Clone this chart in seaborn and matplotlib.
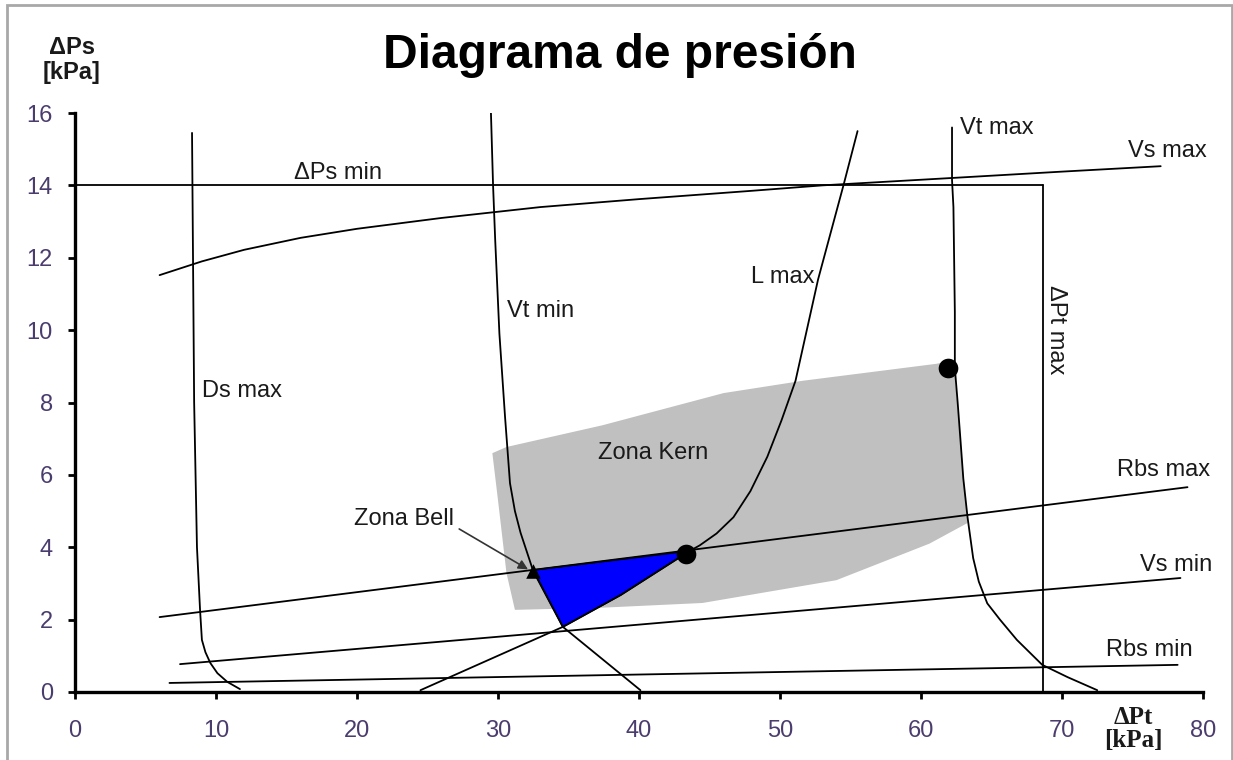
import numpy as np
import matplotlib
matplotlib.use('Agg')
import matplotlib.pyplot as plt
import seaborn as sns

# curves (dPt [kPa], dPs [kPa])
ds_max_x = [8.3, 8.45, 8.65, 8.87, 9.0, 9.25, 9.6, 10.1, 10.8, 11.7]
ds_max_y = [15.45, 8.0, 4.0, 2.26, 1.44, 1.1, 0.8, 0.52, 0.28, 0.08]

vt_min_x = [29.5, 29.65, 29.8, 30.1, 30.5, 30.85, 31.2, 31.6, 32.5, 34.6, 40.1]
vt_min_y = [16.0, 14.0, 12.5, 9.9, 7.6, 5.77, 5.0, 4.4, 3.34, 1.8, 0.05]

l_max_x = [24.5, 34.6, 38.7, 43.6, 44.3, 45.5, 46.7, 47.9, 49.1, 50.1, 51.1, 51.9, 52.7, 53.6, 54.5, 55.5]
l_max_y = [0.05, 1.8, 2.68, 3.9, 4.05, 4.38, 4.83, 5.55, 6.5, 7.5, 8.6, 10.0, 11.4, 12.7, 14.0, 15.5]

vt_max_x = [62.2, 62.2, 62.3, 62.4, 62.4, 62.6, 62.8, 63.0, 63.3, 63.7, 64.1, 64.7, 65.6, 66.8, 68.6, 70.4, 72.5]
vt_max_y = [15.6, 14.15, 13.4, 10.5, 8.95, 8.0, 6.96, 5.9, 4.83, 3.7, 3.05, 2.45, 2.0, 1.44, 0.75, 0.41, 0.05]

vs_max_x = [6.0, 9.0, 12.0, 16.0, 20.0, 26.0, 33.0, 40.0, 48.0, 53.0, 62.0, 70.0, 77.0]
vs_max_y = [11.52, 11.9, 12.22, 12.55, 12.8, 13.1, 13.4, 13.62, 13.85, 14.0, 14.2, 14.38, 14.53]

dps_min_x = [0, 68.65]
dps_min_y = [14, 14]
dpt_max_x = [68.65, 68.65]
dpt_max_y = [14, 0]

rbs_max_x = [6.0, 78.9]
rbs_max_y = [2.07, 5.66]
vs_min_x = [7.45, 78.4]
vs_min_y = [0.77, 3.15]
rbs_min_x = [6.7, 78.2]
rbs_min_y = [0.25, 0.75]

kern_x = [29.6, 30.6, 37.4, 46.0, 51.6, 61.1, 62.3, 62.8, 63.3, 60.6, 54.0, 44.5, 37.4, 31.2, 30.6, 30.0]
kern_y = [6.6, 6.77, 7.37, 8.26, 8.6, 9.07, 9.17, 6.96, 4.67, 4.1, 3.09, 2.46, 2.33, 2.27, 3.29, 5.3]

bell_x = [32.5, 43.6, 38.7, 34.6]
bell_y = [3.37, 3.9, 2.68, 1.8]

dots_x = [43.3, 61.95]
dots_y = [3.82, 8.95]
tri_x = [32.5]
tri_y = [3.34]

curve_labels = ['\u0394Ps min', 'Vs max', 'Vt max', 'L max', 'Vt min', 'Ds max',
                'Zona Kern', 'Rbs max', 'Vs min', 'Rbs min']
label_x = [18.65, 77.5, 65.4, 50.2, 33.05, 11.85, 41.0, 77.2, 78.1, 76.2]
label_y = [14.33, 14.95, 15.58, 11.46, 10.52, 8.31, 6.6, 6.13, 3.5, 1.16]

sns.set_style('ticks')
plt.rcParams['font.family'] = ['Liberation Sans', 'DejaVu Sans']

fig = plt.figure(figsize=(12.33, 7.6), dpi=100)
ax = fig.add_axes([75 / 1233, 1 - 692 / 760, 1128 / 1233, 579 / 760])

ax.fill(kern_x, kern_y, color='#c0c0c0', lw=0, zorder=1)
ax.fill(bell_x, bell_y, color='#0000ff', ec='black', lw=1.2, zorder=2)

curves = [(ds_max_x, ds_max_y), (vt_min_x, vt_min_y), (l_max_x, l_max_y),
          (vt_max_x, vt_max_y), (vs_max_x, vs_max_y), (dps_min_x, dps_min_y),
          (dpt_max_x, dpt_max_y), (rbs_max_x, rbs_max_y), (vs_min_x, vs_min_y),
          (rbs_min_x, rbs_min_y)]
for cx, cy in curves:
    sns.lineplot(x=cx, y=cy, sort=False, estimator=None, color='black', lw=1.3, ax=ax, zorder=3)

sns.scatterplot(x=dots_x, y=dots_y, color='black', s=200, marker='o', ax=ax, zorder=4, linewidth=0)
sns.scatterplot(x=tri_x, y=tri_y, color='black', s=110, marker='^', ax=ax, zorder=4, linewidth=0)

ax.set_xlim(0, 80)
ax.set_ylim(0, 16)
ax.set_xticks(range(0, 81, 10))
ax.set_yticks(range(0, 17, 2))
sns.despine(ax=ax)
for s in ['left', 'bottom']:
    ax.spines[s].set_linewidth(2.4)
    ax.spines[s].set_color('black')
ax.tick_params(axis='both', direction='out', length=5, width=2, colors='black',
               labelcolor='#4b3c6e', labelsize=17)
ax.tick_params(axis='x', pad=15)
ax.tick_params(axis='y', pad=11)

txt_color = '#1a1a1a'
for t, tx, ty in zip(curve_labels, label_x, label_y):
    ax.text(tx, ty, t, ha='center', va='center', fontsize=17, color=txt_color, zorder=5)
ax.text(69.6, 10.0, '\u0394Pt max', ha='center', va='center', rotation=-90,
        fontsize=17, color=txt_color, zorder=5)

ax.annotate('Zona Bell', xy=(32.3, 3.35), xytext=(23.3, 4.78),
            ha='center', va='center', fontsize=17, color=txt_color,
            arrowprops=dict(arrowstyle='-|>', color='#333333', lw=1.2,
                            relpos=(1.0, 0.2), shrinkA=2, shrinkB=2,
                            mutation_scale=14), zorder=5)

fig.text(620 / 1233, 1 - 55 / 760, 'Diagrama de presi\u00f3n', ha='center', va='center',
         fontsize=34.5, fontweight='bold', color='black')
fig.text(72 / 1233, 1 - 60 / 760, '\u0394Ps\n[kPa]', ha='center', va='center',
         fontsize=17, fontweight='bold', color=txt_color, linespacing=1.1)
fig.text(1133 / 1233, 1 - 729 / 760, '\u0394Pt\n[kPa]', ha='center', va='center',
         fontsize=18, fontweight='bold', color=txt_color, linespacing=1.0,
         family='Liberation Serif')

# grey frame round the picture
fig.add_artist(plt.Rectangle((7 / 1233, -0.01), 1225 / 1233, 1 - 5 / 760 + 0.01,
                             transform=fig.transFigure, fill=False,
                             ec='#a8a8a8', lw=2))

fig.savefig('out.png', dpi=100)
